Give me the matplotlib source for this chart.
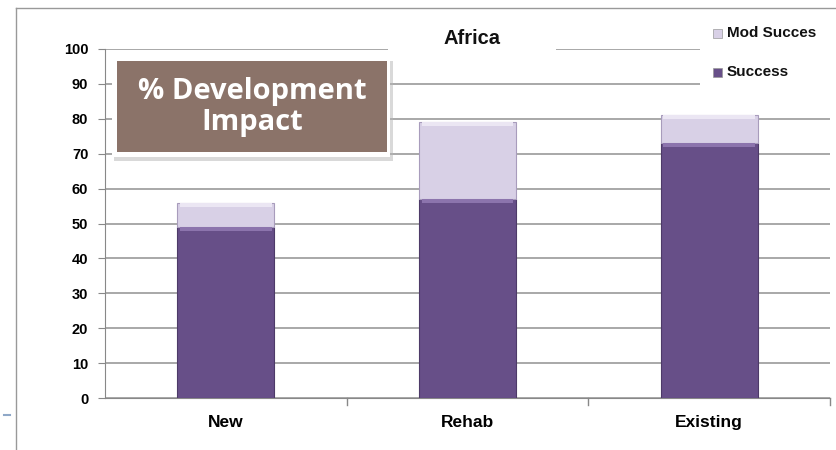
import matplotlib.pyplot as plt
from matplotlib.patches import FancyBboxPatch, Rectangle
from matplotlib.lines import Line2D

categories = ['New', 'Rehab', 'Existing']
success = [49, 57, 73]
mod_success = [7, 22, 8]
yticks = [0, 10, 20, 30, 40, 50, 60, 70, 80, 90, 100]

c_success = '#674f88'
c_mod = '#d8d0e6'

plt.rcParams['font.family'] = ['Liberation Sans', 'DejaVu Sans']

fig = plt.figure(figsize=(8.36, 4.5), dpi=100)
ax = fig.add_axes([105/836, 1-398/450, 725/836, 349/450])

x = range(len(categories))
ax.bar(x, success, width=0.4, color=c_success, edgecolor='#4d3a68',
       linewidth=0.8, label='Success', zorder=3)
ax.bar(x, mod_success, bottom=success, width=0.4, color=c_mod,
       edgecolor='#a89cbc', linewidth=0.8, label='Mod Succes', zorder=3)
# light bevel on top of each segment
ax.bar(x, [1.2]*3, bottom=[s-1.2 for s in success], width=0.38, color='#8c74ad',
       linewidth=0, zorder=4)
ax.bar(x, [1.2]*3, bottom=[s+m-1.2 for s, m in zip(success, mod_success)], width=0.38,
       color='#ebe6f3', linewidth=0, zorder=4)

ax.set_xlim(-0.5, 2.5)
ax.set_ylim(0, 100)
ax.set_yticks(yticks)
ax.set_yticklabels([str(t) for t in yticks], fontsize=10.5, fontweight='bold')
ax.set_xticks(list(x))
ax.set_xticklabels(categories, fontsize=12.5, fontweight='bold')
ax.tick_params(axis='x', length=0, pad=12)
ax.tick_params(axis='y', length=5, color='#888888', pad=7)
for b in [0.5, 1.5, 2.5]:
    ax.plot([b, b], [0, -2], color='#888888', lw=1, clip_on=False)

ax.yaxis.grid(True, color='#9a9a9a', lw=1.2, zorder=0)
for s in ['top', 'right']:
    ax.spines[s].set_visible(False)
ax.spines['left'].set_color('#888888')
ax.spines['bottom'].set_color('#888888')

# title with white background covering gridline
fig.patches.append(Rectangle((388/836, 1-55/450), 168/836, 40/450,
                             transform=fig.transFigure, facecolor='white',
                             edgecolor='none', zorder=5))
fig.text(472/836, 1-39/450, 'Africa', ha='center', va='center', fontsize=14.5,
         fontweight='bold', color='#111111', zorder=6)

# legend area
fig.patches.append(Rectangle((700/836, 1-95/450), 136/836, 80/450,
                             transform=fig.transFigure, facecolor='white',
                             edgecolor='none', zorder=5))
leg_items = [('Mod Succes', c_mod, 33), ('Success', c_success, 72)]
for name, col, yp in leg_items:
    fig.patches.append(Rectangle((713/836, 1-(yp+5)/450), 9/836, 9/450,
                                 transform=fig.transFigure, facecolor=col,
                                 edgecolor='#999999', lw=0.5, zorder=6))
    fig.text(727/836, 1-yp/450, name, ha='left', va='center', fontsize=11,
             fontweight='bold', color='#111111', zorder=7)

# brown text box with shadow
fig.patches.append(FancyBboxPatch((114/836, 1-161/450), 279/836, 100/450,
                                  boxstyle='square,pad=0', transform=fig.transFigure,
                                  facecolor='#b5b5b5', edgecolor='none', alpha=0.5, zorder=7))
fig.patches.append(FancyBboxPatch((112/836, 1-157/450), 278/836, 99/450,
                                  boxstyle='square,pad=0', transform=fig.transFigure,
                                  facecolor='white', edgecolor='none', zorder=8))
fig.patches.append(FancyBboxPatch((117/836, 1-152/450), 270/836, 91/450,
                                  boxstyle='square,pad=0', transform=fig.transFigure,
                                  facecolor='#8b7369', edgecolor='none', zorder=8))
fig.text(252/836, 1-107/450, '% Development\nImpact', ha='center', va='center',
         fontsize=21, fontweight='bold', color='white', linespacing=1.1, zorder=9,
         family=['Open Sans', 'DejaVu Sans'])

# slide frame
fig.lines.append(Line2D([16/836, 16/836], [0, 1-8/450], transform=fig.transFigure,
                        color='#999999', lw=1))
fig.lines.append(Line2D([16/836, 1], [1-8/450, 1-8/450], transform=fig.transFigure,
                        color='#999999', lw=1))
fig.lines.append(Line2D([4/836, 10/836], [1-415/450, 1-415/450], transform=fig.transFigure,
                        color='#8fa8c8', lw=1.5))

fig.savefig('out.png', dpi=100)
